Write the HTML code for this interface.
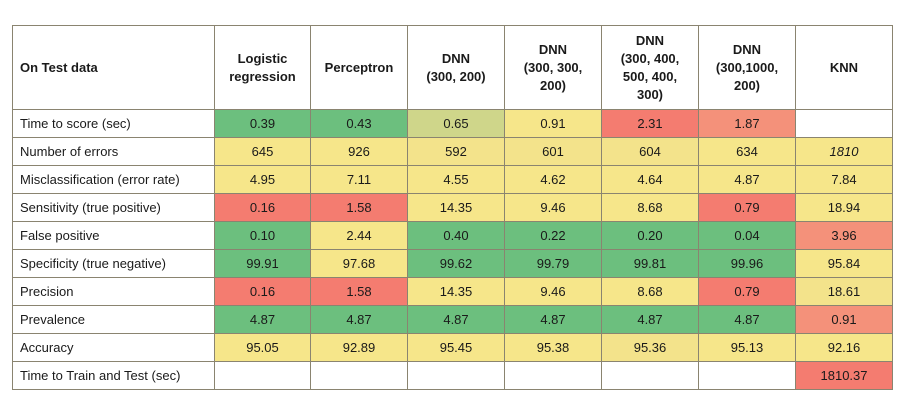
<!DOCTYPE html>
<html><head><meta charset="utf-8"><style>
html,body{margin:0;padding:0;background:#fff;width:916px;height:411px;overflow:hidden}
table{position:absolute;left:12px;top:25px;border-collapse:collapse;table-layout:fixed;font-family:"Liberation Sans",sans-serif;font-size:13px;color:#1a1a1a}
td,th{border:1.5px solid #8a8470;padding:0;text-align:center;height:27px;overflow:hidden}
th{font-weight:bold;height:83px;line-height:18px}
th.first,td.first{text-align:left;padding-left:7px}
.g{background:#6cbf7e}.y{background:#f6e68a}.r{background:#f47c70}
.gy{background:#cfd68a}.ry{background:#f4917a}.yd{background:#f3e38b}
</style></head><body>
<table>
<colgroup><col style="width:202px"><col style="width:96px"><col style="width:97px"><col style="width:97px"><col style="width:97px"><col style="width:97px"><col style="width:97px"><col style="width:97px"></colgroup>
<tr>
<th class="first">On Test data</th>
<th>Logistic<br>regression</th>
<th>Perceptron</th>
<th>DNN<br>(300, 200)</th>
<th>DNN<br>(300, 300,<br>200)</th>
<th>DNN<br>(300, 400,<br>500, 400,<br>300)</th>
<th>DNN<br>(300,1000,<br>200)</th>
<th>KNN</th>
</tr>
<tr><td class="first">Time to score (sec)</td><td class="g">0.39</td><td class="g">0.43</td><td class="gy">0.65</td><td class="y">0.91</td><td class="r">2.31</td><td class="ry">1.87</td><td></td></tr>
<tr><td class="first">Number of errors</td><td class="y">645</td><td class="y">926</td><td class="yd">592</td><td class="yd">601</td><td class="yd">604</td><td class="y">634</td><td class="y"><i>1810</i></td></tr>
<tr><td class="first">Misclassification (error rate)</td><td class="y">4.95</td><td class="y">7.11</td><td class="y">4.55</td><td class="y">4.62</td><td class="y">4.64</td><td class="y">4.87</td><td class="y">7.84</td></tr>
<tr><td class="first">Sensitivity (true positive)</td><td class="r">0.16</td><td class="r">1.58</td><td class="y">14.35</td><td class="y">9.46</td><td class="y">8.68</td><td class="r">0.79</td><td class="y">18.94</td></tr>
<tr><td class="first">False positive</td><td class="g">0.10</td><td class="y">2.44</td><td class="g">0.40</td><td class="g">0.22</td><td class="g">0.20</td><td class="g">0.04</td><td class="ry">3.96</td></tr>
<tr><td class="first">Specificity (true negative)</td><td class="g">99.91</td><td class="y">97.68</td><td class="g">99.62</td><td class="g">99.79</td><td class="g">99.81</td><td class="g">99.96</td><td class="y">95.84</td></tr>
<tr><td class="first">Precision</td><td class="r">0.16</td><td class="r">1.58</td><td class="y">14.35</td><td class="y">9.46</td><td class="y">8.68</td><td class="r">0.79</td><td class="yd">18.61</td></tr>
<tr><td class="first">Prevalence</td><td class="g">4.87</td><td class="g">4.87</td><td class="g">4.87</td><td class="g">4.87</td><td class="g">4.87</td><td class="g">4.87</td><td class="ry">0.91</td></tr>
<tr><td class="first">Accuracy</td><td class="y">95.05</td><td class="y">92.89</td><td class="y">95.45</td><td class="y">95.38</td><td class="yd">95.36</td><td class="y">95.13</td><td class="y">92.16</td></tr>
<tr><td class="first">Time to Train and Test (sec)</td><td></td><td></td><td></td><td></td><td></td><td></td><td class="r">1810.37</td></tr>
</table>
</body></html>
